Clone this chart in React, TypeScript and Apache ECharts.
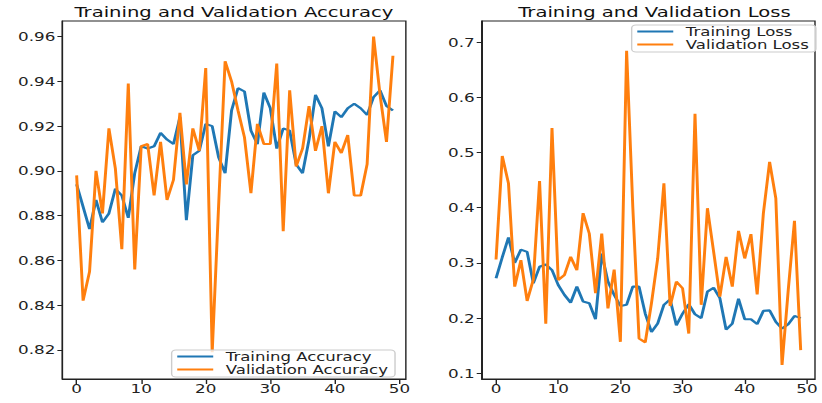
import React, { useEffect, useRef } from "react";
import * as echarts from "echarts";

const trainAcc = [
  0.894, 0.884, 0.874, 0.887, 0.877, 0.881, 0.892, 0.889, 0.879, 0.899,
  0.911, 0.910, 0.911, 0.917, 0.914, 0.912, 0.924, 0.878, 0.907, 0.909,
  0.921, 0.920, 0.906, 0.899, 0.927, 0.937, 0.9355, 0.918, 0.912, 0.935,
  0.928, 0.910, 0.919, 0.918, 0.903, 0.899, 0.914, 0.934, 0.928, 0.911,
  0.9266, 0.924, 0.928, 0.930, 0.928, 0.925, 0.933, 0.936, 0.929, 0.927,
];
const valAcc = [
  0.898, 0.842, 0.855, 0.900, 0.881, 0.919, 0.901, 0.865, 0.939, 0.856,
  0.911, 0.912, 0.889, 0.913, 0.887, 0.896, 0.926, 0.894, 0.919, 0.909,
  0.946, 0.819, 0.885, 0.949, 0.940, 0.927, 0.915, 0.890, 0.921, 0.912,
  0.912, 0.948, 0.873, 0.936, 0.902, 0.910, 0.929, 0.909, 0.920, 0.890,
  0.913, 0.908, 0.916, 0.889, 0.889, 0.903, 0.960, 0.934, 0.913, 0.9515,
];
const trainLoss = [
  0.272, 0.31, 0.346, 0.30, 0.324, 0.32, 0.263, 0.293, 0.297, 0.287,
  0.26, 0.242, 0.228, 0.257, 0.23, 0.227, 0.198, 0.317, 0.266, 0.242,
  0.222, 0.224, 0.257, 0.257, 0.208, 0.175, 0.19, 0.224, 0.234, 0.187,
  0.208, 0.225, 0.207, 0.20, 0.248, 0.255, 0.236, 0.179, 0.19, 0.235,
  0.198, 0.198, 0.189, 0.213, 0.214, 0.193, 0.181, 0.189, 0.204, 0.20,
];
const valLoss = [
  0.306, 0.4935, 0.444, 0.257, 0.305, 0.231, 0.27, 0.448, 0.19, 0.544,
  0.269, 0.278, 0.311, 0.287, 0.39, 0.353, 0.245, 0.353, 0.2175, 0.288,
  0.157, 0.684, 0.40, 0.163, 0.156, 0.227, 0.308, 0.444, 0.222, 0.266,
  0.254, 0.172, 0.57, 0.224, 0.399, 0.32, 0.239, 0.311, 0.257, 0.358,
  0.308, 0.352, 0.243, 0.39, 0.483, 0.417, 0.115, 0.251, 0.376, 0.142,
];
const xTicks = [0, 10, 20, 30, 40, 50];
const accTicks = [0.82, 0.84, 0.86, 0.88, 0.9, 0.92, 0.94, 0.96];
const lossTicks = [0.1, 0.2, 0.3, 0.4, 0.5, 0.6, 0.7];

const SX = 1.4;
const W = 822 / SX;
const H = 403;
const FONT = "DejaVu Sans";
const BLUE = "#1f77b4";
const ORANGE = "#ff7f0e";

const pairs = (arr: number[]) => arr.map((v, i) => [i, v]);

export default function App() {
  const ref = useRef<HTMLDivElement>(null);
  useEffect(() => {
    if (!ref.current) return;
    const chart = echarts.init(ref.current, undefined, { renderer: "svg" });
    const axisText = { fontFamily: FONT, fontSize: 12, color: "#222" };
    const xAxisBase = (gridIndex: number, min: number, max: number) => ({
      type: "value",
      gridIndex,
      min,
      max,
      splitLine: { show: false },
      axisLine: { show: true, onZero: false, lineStyle: { color: "#222", width: 1 } },
      axisTick: { show: true, length: 5, customValues: xTicks, lineStyle: { color: "#222" } },
      axisLabel: { ...axisText, margin: 3, customValues: xTicks, formatter: (v: number) => String(v) },
    });
    const yAxisBase = (gridIndex: number, min: number, max: number, ticks: number[], dec: number) => ({
      type: "value",
      gridIndex,
      min,
      max,
      splitLine: { show: false },
      axisLine: { show: true, onZero: false, lineStyle: { color: "#222", width: 1 } },
      axisTick: { show: true, length: 3.6, customValues: ticks, lineStyle: { color: "#222" } },
      axisLabel: { ...axisText, margin: 5, customValues: ticks, formatter: (v: number) => v.toFixed(dec) },
    });
    const legendBase = {
      orient: "vertical",
      itemWidth: 25.7,
      itemHeight: 10,
      itemGap: 0,
      padding: [0, 5, 1, 3],
      backgroundColor: "rgba(255,255,255,0.8)",
      borderColor: "#cccccc",
      borderWidth: 1,
      borderRadius: 3,
      itemStyle: { opacity: 0 },
      textStyle: { fontFamily: FONT, fontSize: 11.8, lineHeight: 13, color: "#222", padding: [0, 0, 0, 4] },
    };
    const titleBase = {
      top: 5,
      textAlign: "center",
      padding: 0,
      textStyle: { fontFamily: FONT, fontSize: 14, fontWeight: "normal", color: "#111" },
    };
    const lineSeries = (name: string, data: number[], color: string, idx: number) => ({
      name,
      type: "line",
      xAxisIndex: idx,
      yAxisIndex: idx,
      data: pairs(data),
      symbol: "none",
      lineStyle: { color, width: 2.1 },
      itemStyle: { color },
    });
    chart.setOption({
      animation: false,
      textStyle: { fontFamily: FONT },
      title: [
        { ...titleBase, text: "Training and Validation Accuracy", left: 167.1 },
        { ...titleBase, text: "Training and Validation Loss", left: 467.5 },
      ],
      legend: [
        { ...legendBase, data: ["Training Accuracy", "Validation Accuracy"], left: 122.6, top: 350 },
        { ...legendBase, data: ["Training Loss", "Validation Loss"], left: 451.2, top: 25 },
      ],
      grid: [
        { left: 44.6, right: 297.1, top: 21, bottom: 24, show: true, borderColor: "#222", borderWidth: 1, backgroundColor: "transparent" },
        { left: 344.1, right: -3.9, top: 21, bottom: 24, show: true, borderColor: "#222", borderWidth: 1, backgroundColor: "transparent" },
      ],
      xAxis: [xAxisBase(0, -2.2, 51.0), xAxisBase(1, -2.3, 51.3)],
      yAxis: [
        yAxisBase(0, 0.807, 0.967, accTicks, 2),
        yAxisBase(1, 0.0897, 0.738, lossTicks, 1),
      ],
      series: [
        lineSeries("Training Accuracy", trainAcc, BLUE, 0),
        lineSeries("Validation Accuracy", valAcc, ORANGE, 0),
        lineSeries("Training Loss", trainLoss, BLUE, 1),
        lineSeries("Validation Loss", valLoss, ORANGE, 1),
      ],
    });
    return () => chart.dispose();
  }, []);
  return (
    <div
      ref={ref}
      style={{
        position: "fixed",
        left: 0,
        top: 0,
        width: W,
        height: H,
        transform: `scaleX(${SX})`,
        transformOrigin: "0 0",
        background: "#fff",
      }}
    />
  );
}
